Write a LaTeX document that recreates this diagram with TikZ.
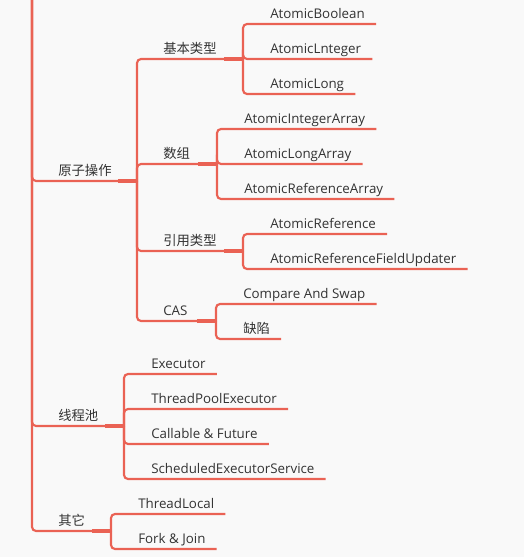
\documentclass[tikz,border=0pt]{standalone}
\usepackage{fontspec}
\setmainfont{Open Sans}
\newfontfamily\cjk{Noto Sans CJK SC}
\usetikzlibrary{positioning}

\definecolor{linered}{RGB}{234,98,84}
\definecolor{txtgray}{RGB}{51,51,51}
\definecolor{bggray}{RGB}{249,249,249}

\begin{document}
\begin{tikzpicture}[
        x=0.75pt, y=-0.75pt,
        font=\fontsize{10pt}{12pt}\selectfont,
        label/.style={anchor=south west, inner sep=0pt, text depth=4pt, text=txtgray},
        branch/.style={draw=linered, line width=1.6pt, rounded corners=3pt},
        stub/.style={draw=linered, line width=2.4pt}
        ]
        % --- canvas ---
        \useasboundingbox[fill=bggray] (0,0) rectangle (524,557);
        \coordinate (root) at (32,0);
        
        % Level 1
        \node[label] (atomic) at (58,181) {\cjk 原子操作};
        \node[label] (pool)   at (58,426) {\cjk 线程池};
        \node[label] (other)  at (58,531) {\cjk 其它};
        \coordinate (b-atomic) at (137,181);
        \coordinate (b-pool)   at (124,426);
        \coordinate (b-other)  at (111,531);
        
        % Level 2 (atomic)
        \node[label] (basic) at (163,59)  {\cjk 基本类型};
        \node[label] (array) at (163,164) {\cjk 数组};
        \node[label] (ref)   at (163,251) {\cjk 引用类型};
        \node[label] (cas)   at (163,321) {CAS};
        \coordinate (b-basic) at (243,59);
        \coordinate (b-array) at (217,164);
        \coordinate (b-ref)   at (243,251);
        \coordinate (b-cas)   at (216,321);
        
        % Leaves
        \node[label] (aBoolean) at (270,24) {AtomicBoolean};
        \node[label] (aInteger) at (270,59) {AtomicLnteger};
        \node[label] (aLong)    at (270,94) {AtomicLong};
        
        \node[label] (aIntArr)  at (244,129) {AtomicIntegerArray};
        \node[label] (aLongArr) at (244,164) {AtomicLongArray};
        \node[label] (aRefArr)  at (244,199) {AtomicReferenceArray};
        
        \node[label] (aRef)    at (270,234) {AtomicReference};
        \node[label] (aRefUpd) at (270,269) {AtomicReferenceFieldUpdater};
        
        \node[label] (casSwap)   at (243,304) {Compare And Swap};
        \node[label] (casDefect) at (243,339) {\cjk 缺陷};
        
        \node[label] (executor)  at (151,374) {Executor};
        \node[label] (tpe)       at (151,409) {ThreadPoolExecutor};
        \node[label] (callable)  at (151,444) {Callable \& Future};
        \node[label] (scheduled) at (151,479) {ScheduledExecutorService};
        
        \node[label] (tlocal)   at (138,514) {ThreadLocal};
        \node[label] (forkjoin) at (138,549) {Fork \& Join};
        
        % Spine and level 1 lines
        \draw[branch] (root) |- (atomic.south west) -- (b-atomic);
        \draw[branch] (root) |- (pool.south west) -- (b-pool);
        \draw[branch] (root) |- (other.south west) -- (b-other);
        \draw[stub] ([xshift=-14.25pt]b-atomic) -- (b-atomic);
        \draw[stub] ([xshift=-14.25pt]b-pool) -- (b-pool);
        \draw[stub] ([xshift=-14.25pt]b-other) -- (b-other);
        
        % Level 2 lines
        \draw[branch] (b-atomic) |- (basic.south west) -- (b-basic);
        \draw[branch] (b-atomic) |- (array.south west) -- (b-array);
        \draw[branch] (b-atomic) |- (ref.south west) -- (b-ref);
        \draw[branch] (b-atomic) |- (cas.south west) -- (b-cas);
        \draw[stub] ([xshift=-14.25pt]b-basic) -- (b-basic);
        \draw[stub] ([xshift=-14.25pt]b-array) -- (b-array);
        \draw[stub] ([xshift=-14.25pt]b-ref) -- (b-ref);
        \draw[stub] ([xshift=-14.25pt]b-cas) -- (b-cas);
        
        % Leaf lines
        \draw[branch] (b-basic) |- (aBoolean.south west) -- ([xshift=8.25pt]aBoolean.south east);
        \draw[branch] (b-basic) |- (aInteger.south west) -- ([xshift=8.25pt]aInteger.south east);
        \draw[branch] (b-basic) |- (aLong.south west) -- ([xshift=8.25pt]aLong.south east);
        
        \draw[branch] (b-array) |- (aIntArr.south west) -- ([xshift=8.25pt]aIntArr.south east);
        \draw[branch] (b-array) |- (aLongArr.south west) -- ([xshift=8.25pt]aLongArr.south east);
        \draw[branch] (b-array) |- (aRefArr.south west) -- ([xshift=8.25pt]aRefArr.south east);
        
        \draw[branch] (b-ref) |- (aRef.south west) -- ([xshift=8.25pt]aRef.south east);
        \draw[branch] (b-ref) |- (aRefUpd.south west) -- ([xshift=8.25pt]aRefUpd.south east);
        
        \draw[branch] (b-cas) |- (casSwap.south west) -- ([xshift=8.25pt]casSwap.south east);
        \draw[branch] (b-cas) |- (casDefect.south west) -- ([xshift=8.25pt]casDefect.south east);
        
        \draw[branch] (b-pool) |- (executor.south west) -- ([xshift=8.25pt]executor.south east);
        \draw[branch] (b-pool) |- (tpe.south west) -- ([xshift=8.25pt]tpe.south east);
        \draw[branch] (b-pool) |- (callable.south west) -- ([xshift=8.25pt]callable.south east);
        \draw[branch] (b-pool) |- (scheduled.south west) -- ([xshift=8.25pt]scheduled.south east);
        
        \draw[branch] (b-other) |- (tlocal.south west) -- ([xshift=8.25pt]tlocal.south east);
        \draw[branch] (b-other) |- (forkjoin.south west) -- ([xshift=8.25pt]forkjoin.south east);
        
    \end{tikzpicture}
\end{document}
